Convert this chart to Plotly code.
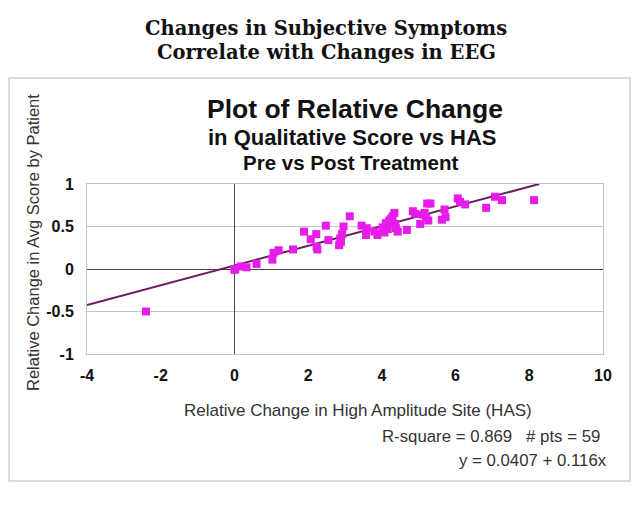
import plotly.graph_objects as go

# Data
has_change = [-2.4, 0.0, 0.17, 0.33, 0.6, 1.03, 1.06, 1.2, 1.59, 1.89, 2.07, 2.22, 2.25, 2.23,
              2.48, 2.55, 2.84, 2.87, 2.89, 2.92, 2.96, 3.13,
              3.45, 3.57, 3.59, 3.80, 3.88, 4.02, 4.07, 4.11, 4.16, 4.25, 4.29, 4.34, 4.36,
              4.38, 4.43, 4.2, 4.68, 4.84, 4.9, 5.04, 5.11, 5.16, 5.2, 5.26, 5.23, 5.32,
              5.63, 5.7, 5.73, 6.06, 6.12, 6.26, 6.83, 7.07, 7.26, 8.13, 0.02]
score_change = [-0.5, -0.01, 0.03, 0.02, 0.06, 0.11, 0.19, 0.22, 0.23, 0.44, 0.35, 0.41, 0.23, 0.26,
                0.51, 0.34, 0.28, 0.36, 0.32, 0.41, 0.50, 0.62,
                0.51, 0.40, 0.48, 0.44, 0.40, 0.49, 0.43, 0.54, 0.47, 0.59, 0.62, 0.66, 0.53,
                0.48, 0.44, 0.57, 0.46, 0.68, 0.65, 0.53, 0.64, 0.66, 0.61, 0.57, 0.77, 0.77,
                0.58, 0.70, 0.61, 0.83, 0.79, 0.76, 0.72, 0.85, 0.81, 0.81, 0.0]

intercept = 0.0407
slope = 0.116
trend_x = [-4, 8.27]
trend_y = [intercept + slope * x for x in trend_x]

x_ticks = [-4, -2, 0, 2, 4, 6, 8, 10]
x_tick_text = ["-4", "-2", "0", "2", "4", "6", "8", "10"]
y_ticks = [-1, -0.5, 0, 0.5, 1]
y_tick_text = ["-1", "-0.5", "0", "0.5", "1"]

SANS = "Liberation Sans, Arial, sans-serif"
SERIF = "DejaVu Serif, serif"

fig = go.Figure()
fig.add_trace(go.Scatter(x=trend_x, y=trend_y, mode="lines",
                         line=dict(color="#6a1b6a", width=2), hoverinfo="skip",
                         showlegend=False))
fig.add_trace(go.Scatter(x=has_change, y=score_change, mode="markers",
                         marker=dict(symbol="square", size=8, color="#e81ce8",
                                     line=dict(width=0)),
                         showlegend=False))

L, R, T, B = 87, 603, 184, 354
W, H = R - L, B - T

def px(xp):
    return (xp - L) / W

def py(yp):
    return (B - yp) / H

fig.update_layout(
    width=640, height=505,
    margin=dict(l=L, r=640 - R, t=T, b=505 - B, pad=0),
    paper_bgcolor="white", plot_bgcolor="white",
    font=dict(family=SANS, color="#222"),
    xaxis=dict(range=[-4, 10], tickvals=x_ticks, ticktext=x_tick_text, showgrid=False,
               zeroline=True, zerolinecolor="#444", zerolinewidth=1,
               showline=True, linecolor="#c4c4c4", mirror=True, linewidth=1,
               tickfont=dict(family=SANS, size=16, color="#111", weight="bold"),
               ticks="", ticklabelstandoff=7, fixedrange=True),
    yaxis=dict(range=[-1, 1], tickvals=y_ticks, ticktext=y_tick_text,
               showgrid=True, gridcolor="#c4c4c4", gridwidth=1,
               zeroline=True, zerolinecolor="#444", zerolinewidth=1,
               showline=True, linecolor="#c4c4c4", mirror=True, linewidth=1,
               tickfont=dict(family=SANS, size=16, color="#111", weight="bold"),
               ticks="", ticklabelstandoff=9, fixedrange=True),
)

shapes = [dict(type="rect", xref="paper", yref="paper",
               x0=px(9), x1=px(630), y0=py(481), y1=py(78),
               line=dict(color="#d0d0d0", width=1.5), fillcolor="rgba(0,0,0,0)",
               layer="below")]
fig.update_layout(shapes=shapes)

ann = []
def add(text, x, y, size, family=SANS, bold=False, color="#111", xanchor="center", angle=0):
    ann.append(dict(text=text, x=px(x), y=py(y), xref="paper", yref="paper",
                    xanchor=xanchor, yanchor="middle", showarrow=False, textangle=angle,
                    font=dict(family=family, size=size, color=color,
                              weight="bold" if bold else "normal")))

add("Changes in Subjective Symptoms", 326, 28, 19.5, SERIF, True, "#111")
add("Correlate with Changes in EEG", 326, 52, 19.5, SERIF, True, "#111")
add("Plot of Relative Change", 355, 109, 26.5, SANS, True, "#111")
add("in Qualitative Score vs HAS", 352, 137, 22, SANS, True, "#111")
add("Pre vs Post Treatment", 351, 162, 20.5, SANS, True, "#111")
add("Relative Change in High Amplitude Site (HAS)", 358, 410, 17, SANS, False, "#333")
add("Relative Change in Avg Score by Patient", 33, 243, 16.5, SANS, False, "#333", angle=-90)
add("R-square = 0.869   # pts = 59", 602, 436, 16.8, SANS, False, "#333", xanchor="right")
add("y = 0.0407 + 0.116x", 609, 460, 16.8, SANS, False, "#333", xanchor="right")
fig.update_layout(annotations=ann)

fig.write_html("out.html")
